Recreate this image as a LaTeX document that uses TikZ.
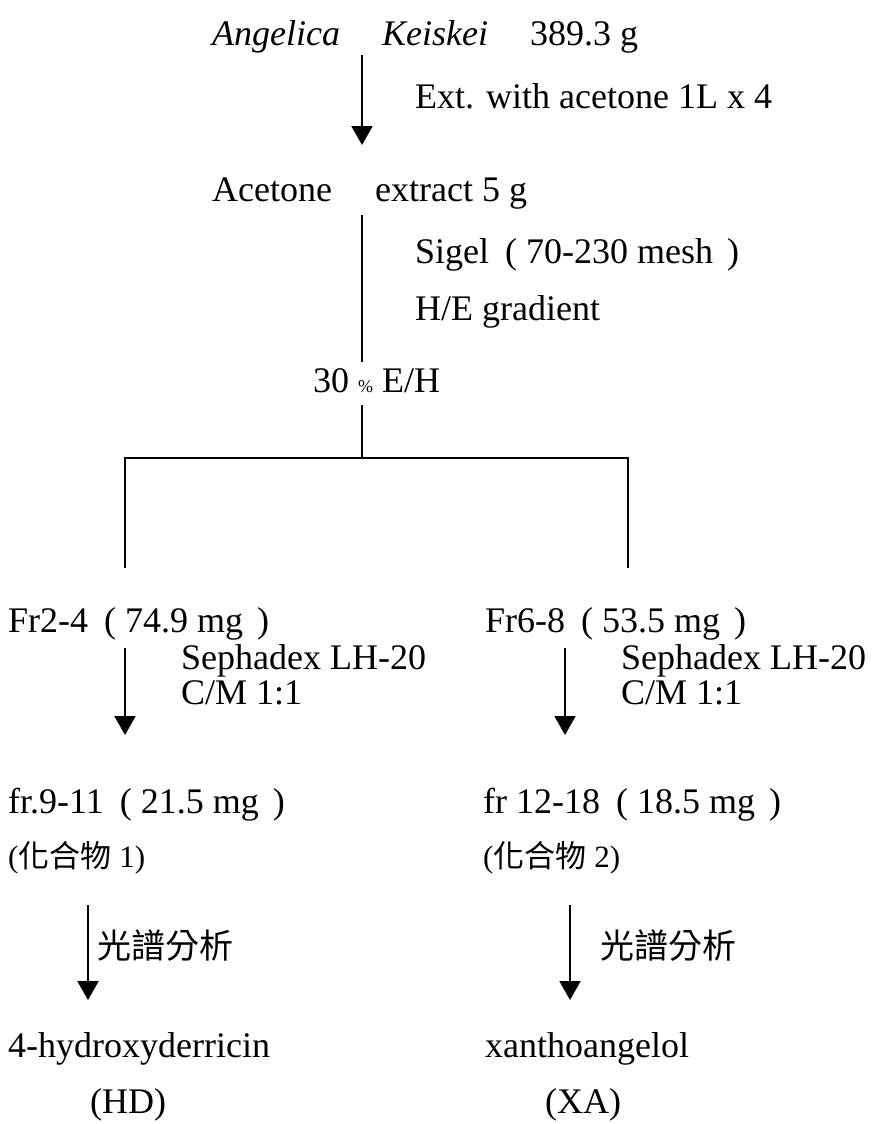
\documentclass[tikz,border=0pt]{standalone}
\usepackage{fontspec}
\setmainfont{Liberation Serif}
\newfontfamily\cjk{Noto Sans CJK TC}
\usetikzlibrary{arrows.meta}

\tikzset{
  txt/.style={anchor=base west, inner sep=0pt, font=\fontsize{36}{40}\selectfont},
  cpd/.style={anchor=base west, inner sep=0pt, font=\fontsize{31}{34}\selectfont},
  spec/.style={anchor=base west, inner sep=0pt, font=\fontsize{34}{38}\selectfont\cjk},
  flow/.style={line width=2pt, -{Triangle[width=21pt,length=19pt]}},
  rule/.style={line width=2pt}
}
\newcommand{\po}{\hspace{16pt}(\hspace{9pt}}
\newcommand{\pc}{\hspace{14pt})}

\begin{document}
\begin{tikzpicture}[x=1pt,y=-1pt]
  \useasboundingbox (0,0) rectangle (871,1124);

  % ponto de partida
  \node[txt] (plant) at (212,46) {\textit{Angelica}\hspace{42pt}\textit{Keiskei}\hspace{42pt}389.3 g};
  \node[txt] (ext) at (415,108) {Ext. with acetone 1L x 4};
  \node[txt] (crude) at (212,201) {Acetone\hspace{43pt}extract 5 g};

  % coluna de sílica
  \node[txt] (sigel) at (415,263) {Sigel\po 70-230 mesh\pc};
  \node[txt] (grad) at (415,320) {H/E gradient};
  \node[txt] (eh) at (313,392) {30 {\fontsize{18}{18}\selectfont\%} E/H};

  % ramo esquerdo
  \node[txt] (frA) at (8,632) {Fr2-4\po 74.9 mg\pc};
  \node[txt] (sepA) at (181,669) {Sephadex LH-20};
  \node[txt] (cmA) at (181,704) {C/M 1:1};
  \node[txt] (subA) at (8,813) {fr.9-11\po 21.5 mg\pc};
  \node[cpd] (cpA) at (8,867) {({\cjk 化合物} 1)};
  \node[spec] (specA) at (97,958) {光譜分析};
  \node[txt] (hd) at (8,1057) {4-hydroxyderricin};
  \node[txt] (hdab) at (90,1113) {(HD)};

  % ramo direito
  \node[txt] (frB) at (485,632) {Fr6-8\po 53.5 mg\pc};
  \node[txt] (sepB) at (621,669) {Sephadex LH-20};
  \node[txt] (cmB) at (621,704) {C/M 1:1};
  \node[txt] (subB) at (483,813) {fr 12-18\po 18.5 mg\pc};
  \node[cpd] (cpB) at (483,867) {({\cjk 化合物} 2)};
  \node[spec] (specB) at (600,958) {光譜分析};
  \node[txt] (xa) at (485,1057) {xanthoangelol};
  \node[txt] (xaab) at (545,1113) {(XA)};

  % pontos das setas
  \coordinate (a1s) at (362,55);   \coordinate (a1e) at (362,145);
  \coordinate (l2s) at (362,215);  \coordinate (l2e) at (362,362);
  \coordinate (l3s) at (362,405);  \coordinate (split) at (362,458);
  \coordinate (bL) at (125,458);   \coordinate (bR) at (628,458);
  \coordinate (bLe) at (125,568);  \coordinate (bRe) at (628,568);
  \coordinate (a4s) at (125,648);  \coordinate (a4e) at (125,735);
  \coordinate (a5s) at (565,648);  \coordinate (a5e) at (565,735);
  \coordinate (a6s) at (88,905);   \coordinate (a6e) at (88,1000);
  \coordinate (a7s) at (570,905);  \coordinate (a7e) at (570,1000);

  % setas e linhas
  \draw[flow] (a1s) -- (a1e);
  \draw[rule] (l2s) -- (l2e);
  \draw[rule] (l3s) -- (split);
  \draw[rule] (bLe) -- (bL) -- (bR) -- (bRe);
  \draw[flow] (a4s) -- (a4e);
  \draw[flow] (a5s) -- (a5e);
  \draw[flow] (a6s) -- (a6e);
  \draw[flow] (a7s) -- (a7e);
\end{tikzpicture}
\end{document}
